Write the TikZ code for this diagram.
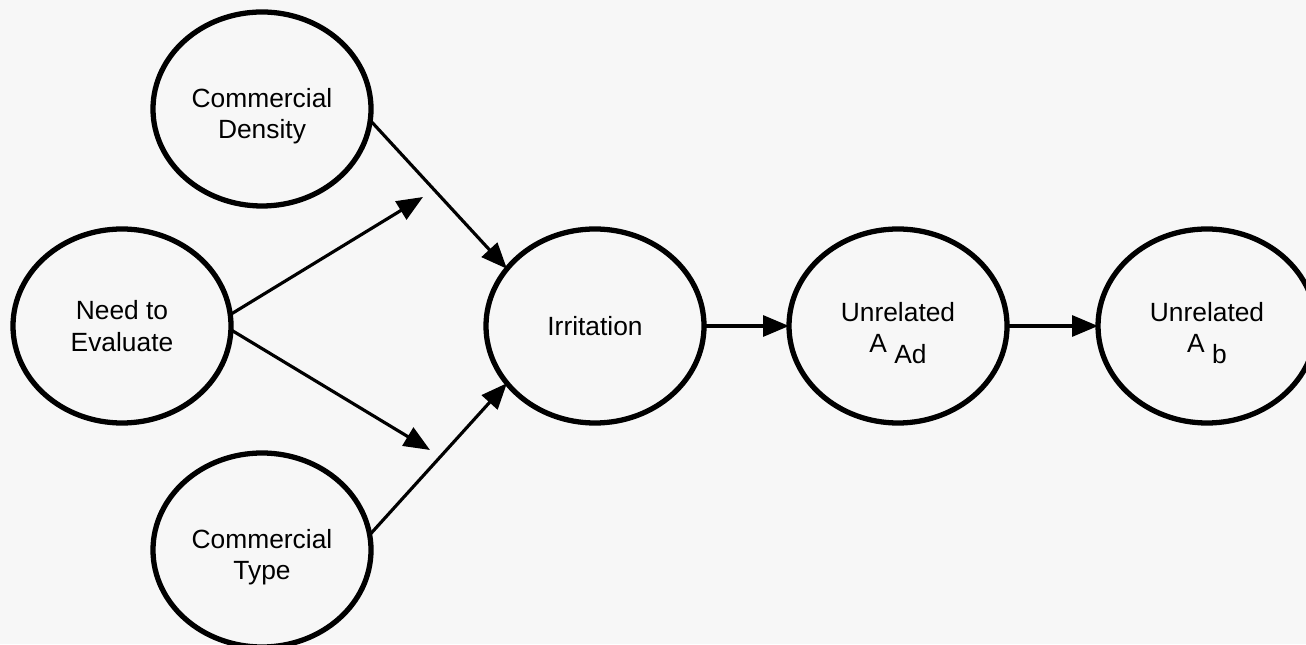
\documentclass[tikz,border=0pt]{standalone}
\usepackage{fontspec}
\setmainfont{Liberation Sans}
\usetikzlibrary{shapes.geometric,arrows.meta}

\newcommand{\dn}{\rule{0pt}{9.5pt}}

\begin{document}
\begin{tikzpicture}
\tikzset{ >={Triangle[length=0.26cm,width=0.21cm]}, inner sep=0pt, outer sep=0pt,
  var/.style={draw, ellipse, line width=1.5pt, minimum width=2.18cm, minimum height=1.94cm,
              align=center, font=\fontsize{7.5}{8.9}\selectfont},
  link/.style={->, line width=0.9pt} }

\fill [black!3] (0,0) rectangle (13.06,6.44);
\useasboundingbox (0,0) rectangle (13.06,6.44);

\node [var] (D) at (2.62,5.35) {\dn Commercial\\Density};
\node [var] (N) at (1.22,3.18) {Need to\\Evaluate};
\node [var] (T) at (2.62,0.94) {\dn Commercial\\Type};
\node [var] (I) at (5.95,3.18) {Irritation};
\node [var] (U) at (8.98,3.18) {\dn Unrelated\\A\ \raisebox{-3pt}{Ad}};
\node [var] (B) at (12.07,3.18) {\dn Unrelated\\A\ \raisebox{-3pt}{b}};

% free ends
\coordinate (E1) at (4.23,4.47);
\coordinate (E2) at (4.30,1.94);

\draw [link] (N.6)   -- (E1);
\draw [link] (N.-2)  -- (E2);
\draw [link] (D.-6)  -- (I.147);
\draw [link] (T.8)   -- (I.213);

\draw [link] (I) -- (U);
\draw [link] (U) -- (B);

\end{tikzpicture}
\end{document}
